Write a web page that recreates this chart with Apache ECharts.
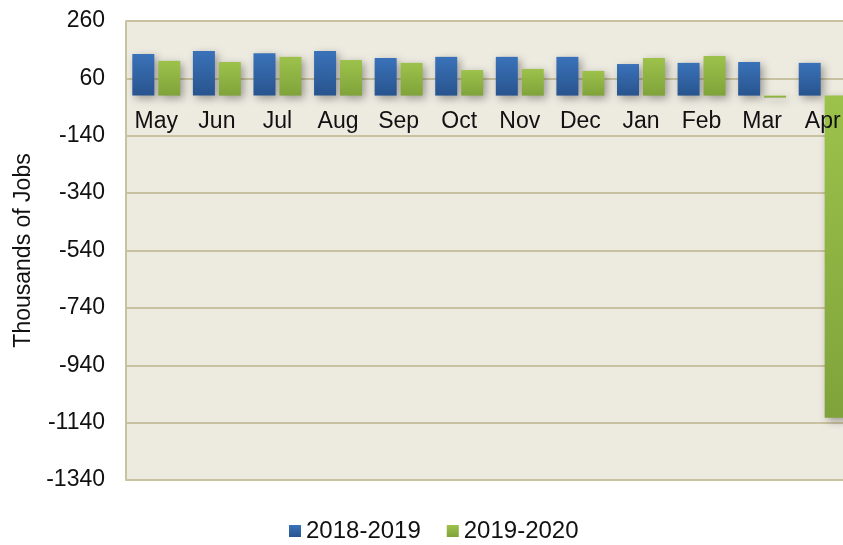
<!DOCTYPE html>
<html>
<head>
<meta charset="utf-8">
<script src="https://cdn.jsdelivr.net/npm/echarts@6/dist/echarts.min.js"></script>
<style>
  html, body { margin: 0; padding: 0; background: #fff; }
  #chart { width: 843px; height: 545px; }
</style>
</head>
<body>
<div id="chart"></div>
<script>
const months = ['May', 'Jun', 'Jul', 'Aug', 'Sep', 'Oct', 'Nov', 'Dec', 'Jan', 'Feb', 'Mar', 'Apr']
const jobs2018 = [145, 155, 148, 155, 131, 135, 135, 135, 110, 114, 117, 114]
const jobs2019 = [121, 117, 135, 124, 114, 89, 93, 86, 131, 138, -7, -1123]
const seriesNames = ['2018-2019', '2019-2020']

const yMin = -1340
const yMax = 260

const fontFamily = 'Arial, "Liberation Sans", sans-serif'
const ink = '#111'
const tan = '#c9c2a0'

const gridTop = 21
const gridBottom = 65
const plotHeight = 545 - gridTop - gridBottom
// category labels sit just under the zero line, not at the bottom of the plot
const zeroLift = plotHeight * (0 - yMin) / (yMax - yMin)

const grad = (top, bottom) => new echarts.graphic.LinearGradient(0, 0, 0, 1, [
  { offset: 0, color: top },
  { offset: 1, color: bottom },
])
const barShadow = {
  shadowColor: 'rgba(0,0,0,0.35)',
  shadowBlur: 8,
  shadowOffsetX: 3,
  shadowOffsetY: 3,
}

const chart = echarts.init(document.getElementById('chart'))
chart.setOption({
  animation: false,
  textStyle: { fontFamily, color: ink },
  // plot runs past the right edge of the canvas, like the source image
  grid: {
    left: 126, width: 727, top: gridTop, bottom: gridBottom,
    outerBoundsMode: 'none',
    show: true, backgroundColor: '#edeae0', borderWidth: 0,
  },
  legend: {
    data: seriesNames,
    top: 514,
    left: 284,
    icon: 'rect',
    itemWidth: 12,
    itemHeight: 12,
    itemGap: 26,
    textStyle: { fontSize: 24, color: ink, fontFamily },
  },
  xAxis: {
    type: 'category',
    data: months,
    offset: -zeroLift,
    z: 5,
    axisLine: { show: false, onZero: false },
    axisTick: { show: false },
    axisLabel: { fontSize: 23, color: ink, margin: 15, interval: 0 },
  },
  yAxis: {
    type: 'value',
    min: yMin,
    max: yMax,
    interval: 200,
    name: 'Thousands of Jobs',
    nameLocation: 'middle',
    nameGap: 91,
    nameTextStyle: { fontSize: 23, color: ink, fontFamily },
    axisLine: { show: true, lineStyle: { color: tan, width: 2 } },
    axisTick: { show: false },
    axisLabel: { fontSize: 23, color: ink, margin: 21, formatter: (v) => String(v) },
    splitLine: { show: true, lineStyle: { color: tan, width: 2 } },
  },
  series: [
    {
      name: seriesNames[0], type: 'bar', data: jobs2018,
      barWidth: 22, barGap: '18%',
      itemStyle: { color: grad('#3a72b9', '#28548e'), ...barShadow },
    },
    {
      name: seriesNames[1], type: 'bar', data: jobs2019,
      barWidth: 22,
      itemStyle: { color: grad('#9dc24b', '#7fa33a'), ...barShadow },
    },
  ],
})
</script>
</body>
</html>
